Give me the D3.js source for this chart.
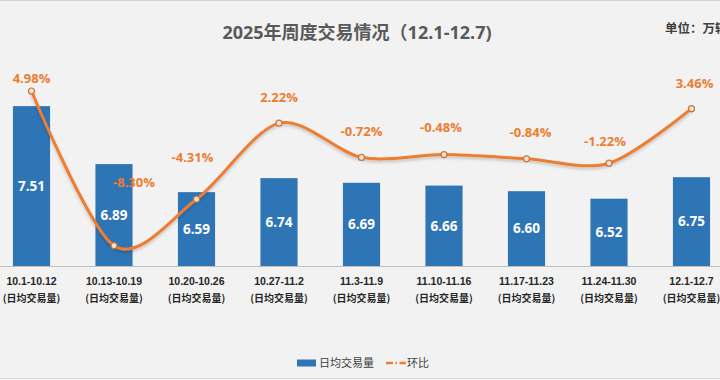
<!DOCTYPE html>
<html>
<head>
<meta charset="utf-8">
<script src="https://cdn.jsdelivr.net/npm/d3@7"></script>
<style>
  body { margin: 0; background: #f2f2f2; }
  svg { display: block; }
</style>
</head>
<body>
<script>
'use strict';

var width = 720,
    height = 380;

// weekly data
var weeks = ["10.1-10.12", "10.13-10.19", "10.20-10.26", "10.27-11.2", "11.3-11.9",
             "11.10-11.16", "11.17-11.23", "11.24-11.30", "12.1-12.7"];
var dailyVolume = [7.51, 6.89, 6.59, 6.74, 6.69, 6.66, 6.60, 6.52, 6.75];
var weekChange = [4.98, -8.30, -4.31, 2.22, -0.72, -0.48, -0.84, -1.22, 3.46];

// label nudges for the 环比 labels (dx, dy from the point)
var changeNudge = [[0, -13], [20, -63], [-4, -42], [0, -26], [0, -26],
                   [-3, -27], [4, -26], [-4, -22], [3, -25]];

var blue = "#2e75b6",
    orange = "#ed7d31",
    font = "'Open Sans', 'Noto Sans CJK SC', sans-serif";

var svg = d3.select("body").append("svg")
    .attr("width", width)
    .attr("height", height)
    .style("font-family", font);

svg.append("rect")
    .attr("width", width)
    .attr("height", height)
    .attr("fill", "#f2f2f2");

// frame lines at top and bottom
svg.append("line").attr("x1", 0).attr("x2", width).attr("y1", 0.5).attr("y2", 0.5)
    .attr("stroke", "#d0d0d0");
svg.append("line").attr("x1", 0).attr("x2", width).attr("y1", 378.5).attr("y2", 378.5)
    .attr("stroke", "#d9d9d9");

var defs = svg.append("defs");
var shadow = defs.append("filter").attr("id", "shadow")
    .attr("x", "-10%").attr("y", "-10%").attr("width", "120%").attr("height", "130%");
shadow.append("feDropShadow")
    .attr("dx", 0).attr("dy", 2).attr("stdDeviation", 1.5)
    .attr("flood-color", "#000").attr("flood-opacity", 0.2);

var x = d3.scaleBand()
    .domain(weeks)
    .range([-9.75, 732.75])
    .paddingInner(0.55)
    .paddingOuter(0.275);

var y = d3.scaleLinear()
    .domain([5.8, 8])
    .range([266, 60.3]);

var y2 = d3.scaleLinear()
    .domain([-10, 6])
    .range([265.5, 79.1]);

// title
svg.append("text")
    .attr("x", 357)
    .attr("y", 39)
    .attr("text-anchor", "middle")
    .style("font-size", "18px")
    .style("font-weight", "bold")
    .style("fill", "#595959")
    .text("2025年周度交易情况（12.1-12.7)");

svg.append("text")
    .attr("x", 665)
    .attr("y", 33)
    .style("font-family", "'Noto Sans CJK SC', sans-serif")
    .style("font-size", "12.5px")
    .style("font-weight", "bold")
    .style("fill", "#404040")
    .text("单位：万辆");

// bars
svg.append("g")
    .selectAll("rect")
    .data(dailyVolume)
    .enter().append("rect")
        .attr("x", function(d, i) { return x(weeks[i]); })
        .attr("y", function(d) { return y(d); })
        .attr("width", x.bandwidth())
        .attr("height", function(d) { return y.range()[0] - y(d); })
        .attr("fill", blue);

svg.append("g")
    .selectAll("text")
    .data(dailyVolume)
    .enter().append("text")
        .attr("x", function(d, i) { return x(weeks[i]) + x.bandwidth() / 2; })
        .attr("y", function(d) { return (y(d) + y.range()[0]) / 2; })
        .attr("dy", "0.35em")
        .attr("text-anchor", "middle")
        .style("font-size", "13.5px")
        .style("font-weight", "bold")
        .style("fill", "#fff")
        .text(function(d) { return d.toFixed(2); });

// axis
var xAxis = svg.append("g")
    .attr("transform", "translate(0,266)")
    .call(d3.axisBottom(x).tickSize(0).tickPadding(0).tickFormat(""));
xAxis.select(".domain").attr("stroke", "#bfbfbf").attr("stroke-width", 1.2)
    .attr("d", "M0,0.5H" + width);

var ticks = xAxis.selectAll(".tick");
ticks.append("text")
    .attr("y", 19)
    .style("font-size", "10.5px")
    .style("font-weight", "bold")
    .style("fill", "#262626")
    .text(function(d) { return d; });
ticks.append("text")
    .attr("y", 35.5)
    .style("font-family", "'Noto Sans CJK SC', sans-serif")
    .style("font-size", "10px")
    .style("font-weight", "bold")
    .style("fill", "#262626")
    .text("(日均交易量)");
ticks.selectAll("text").attr("text-anchor", "middle").attr("fill", null);

// change line
var line = d3.line()
    .x(function(d, i) { return x(weeks[i]) + x.bandwidth() / 2; })
    .y(function(d) { return y2(d); })
    .curve(d3.curveCardinal.tension(0.1));

svg.append("path")
    .datum(weekChange)
    .attr("d", line)
    .attr("fill", "none")
    .attr("stroke", orange)
    .attr("stroke-width", 3)
    .attr("filter", "url(#shadow)");

svg.append("g")
    .selectAll("circle")
    .data(weekChange)
    .enter().append("circle")
        .attr("cx", function(d, i) { return x(weeks[i]) + x.bandwidth() / 2; })
        .attr("cy", function(d) { return y2(d); })
        .attr("r", 3)
        .attr("fill", "#f6e3d4")
        .attr("stroke", "#c9733a")
        .attr("stroke-width", 1.2);

svg.append("g")
    .selectAll("text")
    .data(weekChange)
    .enter().append("text")
        .attr("x", function(d, i) { return x(weeks[i]) + x.bandwidth() / 2 + changeNudge[i][0]; })
        .attr("y", function(d, i) { return y2(d) + changeNudge[i][1]; })
        .attr("dy", "0.35em")
        .attr("text-anchor", "middle")
        .style("font-size", "13px")
        .style("font-weight", "bold")
        .style("fill", orange)
        .text(function(d) { return d.toFixed(2) + "%"; });

// legend
var legend = svg.append("g").attr("transform", "translate(297,363)");
legend.append("rect")
    .attr("x", 0).attr("y", -3.5)
    .attr("width", 19).attr("height", 7)
    .attr("fill", blue);
legend.append("text")
    .attr("x", 22).attr("dy", "0.35em")
    .style("font-family", "'Noto Sans CJK SC', sans-serif")
    .style("font-size", "11px")
    .style("fill", "#404040")
    .text("日均交易量");
legend.append("line")
    .attr("x1", 89).attr("x2", 109).attr("y1", 0).attr("y2", 0)
    .attr("stroke", orange).attr("stroke-width", 2.5)
    .attr("stroke-dasharray", "7,2.5,1.5,2.5,7");
legend.append("text")
    .attr("x", 110).attr("dy", "0.35em")
    .style("font-family", "'Noto Sans CJK SC', sans-serif")
    .style("font-size", "11px")
    .style("fill", "#404040")
    .text("环比");
</script>
</body>
</html>
